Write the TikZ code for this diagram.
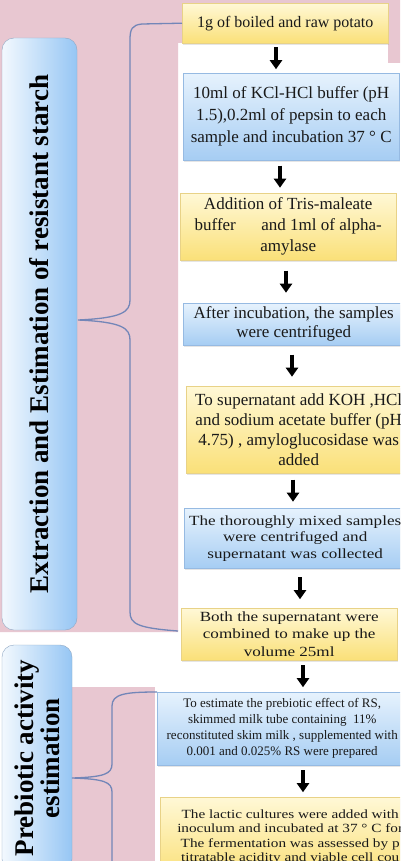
\documentclass[tikz,border=0pt]{standalone}
\usepackage{fontspec}
\setmainfont{Liberation Serif}
\newfontfamily\widefont[FakeStretch=1.22]{Liberation Serif}
\usetikzlibrary{arrows.meta,shadows}
\definecolor{pinkbg}{RGB}{232,199,209}
\definecolor{ylight}{RGB}{255,248,214}
\definecolor{ydark}{RGB}{250,224,120}
\definecolor{yline}{RGB}{232,210,135}
\definecolor{blight}{RGB}{230,242,253}
\definecolor{bdark}{RGB}{166,205,243}
\definecolor{bline}{RGB}{150,186,226}
\definecolor{sdark}{RGB}{150,198,244}
\definecolor{brcol}{RGB}{115,134,184}
\tikzset{
  box/.style={anchor=north west, inner sep=3pt, align=center, text=black!90,
    drop shadow={opacity=.2, shadow xshift=1pt, shadow yshift=-1.5pt}},
  ybox/.style={box, draw=yline, top color=ylight, bottom color=ydark},
  bbox/.style={box, draw=bline, top color=blight, bottom color=bdark},
  side/.style={draw=bline!70!gray, rounded corners=12pt, rotate=90, align=center,
    left color=blight!50!white, right color=sdark,
    font=\fontsize{27}{24}\selectfont\bfseries},
  arr/.style={line width=4pt, -{Triangle[length=9pt,width=12pt]}},
  brc/.style={draw=brcol, line width=1.3pt}
}
\begin{document}
\begin{tikzpicture}[x=1pt,y=-1pt]
\useasboundingbox (0,0) rectangle (400,861);
\clip (0,0) rectangle (400,861);
\fill[white] (0,0) rectangle (400,861);
\fill[pinkbg] (0,0) -- (400,0) -- (400,63) -- (388,63) -- (388,43) -- (178,43) -- (178,632) -- (0,632) -- cycle;
\fill[pinkbg] (71,687) rectangle (155,870);

\node[side, minimum width=592pt, minimum height=75pt] (ext) at (39.5,334) {Extraction and Estimation of resistant starch};
\node[side, minimum width=226pt, minimum height=70pt] (pre) at (37,758) {Prebiotic activity\\estimation};

\node[ybox, minimum width=206pt, minimum height=40pt, font=\fontsize{16}{20}\selectfont] (b1) at (182,3) {1g of boiled and raw potato};
\node[bbox, minimum width=216pt, minimum height=87pt, font=\fontsize{17}{22}\selectfont] (b2) at (183,73) {10ml of KCl-HCl buffer (pH\\1.5),0.2ml of pepsin to each\\sample and incubation 37 ° C};
\node[ybox, minimum width=216pt, minimum height=67pt, font=\fontsize{17}{21}\selectfont] (b3) at (180,193) {Addition of Tris-maleate\\buffer\hspace{1.5em}and 1ml of alpha-\\amylase};
\node[bbox, minimum width=221pt, minimum height=42pt, font=\fontsize{17}{19}\selectfont] (b4) at (183,303) {After incubation, the samples\\were centrifuged};
\node[ybox, minimum width=225pt, minimum height=87pt, font=\fontsize{17}{20}\selectfont] (b5) at (186,386) {To supernatant add KOH ,HCl\\and sodium acetate buffer (pH\\4.75) , amyloglucosidase was\\added};
\node[bbox, minimum width=222pt, minimum height=60pt, font=\widefont\fontsize{14}{16.5}\selectfont] (b6) at (184,508) {The thoroughly mixed samples\\were centrifuged and\\supernatant was collected};
\node[ybox, minimum width=216pt, minimum height=52pt, font=\widefont\fontsize{14}{17.5}\selectfont] (b7) at (181,608) {Both the supernatant were\\combined to make up the\\volume 25ml};
\node[bbox, minimum width=250pt, minimum height=73pt, font=\fontsize{13}{16}\selectfont] (b8) at (157,692) {To estimate the prebiotic effect of RS,\\skimmed milk tube containing\ \ 11\%\\reconstituted skim milk , supplemented with\\0.001 and 0.025\% RS were prepared};
\node[ybox, minimum width=260pt, minimum height=80pt, font=\widefont\fontsize{12.5}{14.5}\selectfont] (b9) at (160,797) {The lactic cultures were added with\\inoculum and incubated at 37 ° C for\\The fermentation was assessed by p\\titratable acidity and viable cell cou};

\foreach \p/\q/\x in {b1/b2/276,b2/b3/280,b3/b4/286,b4/b5/292,b5/b6/293,b6/b7/300,b7/b8/303,b8/b9/303}{
  \path (\p.south) -- (\q.north) coordinate[pos=.5] (m);
  \draw[arr] (m -| \x,0) ++(0,-11) -- ++(0,22);
}

\draw[brc] (b1.west) -- (142,24) .. controls (132,25) and (130,29) .. (130,40) -- (130,300)
  .. controls (130,312) and (122,318) .. (78,320) .. controls (122,322) and (130,328) .. (130,340)
  -- (130,612) .. controls (130,624) and (138,628) .. (178,631);
\draw[brc] (b8.north west) .. controls (125,692) and (112,694) .. (112,706) -- (112,764)
  .. controls (112,774) and (104,777) .. (72,778) .. controls (104,779) and (112,782) .. (112,792)
  -- (112,870);
\end{tikzpicture}
\end{document}
